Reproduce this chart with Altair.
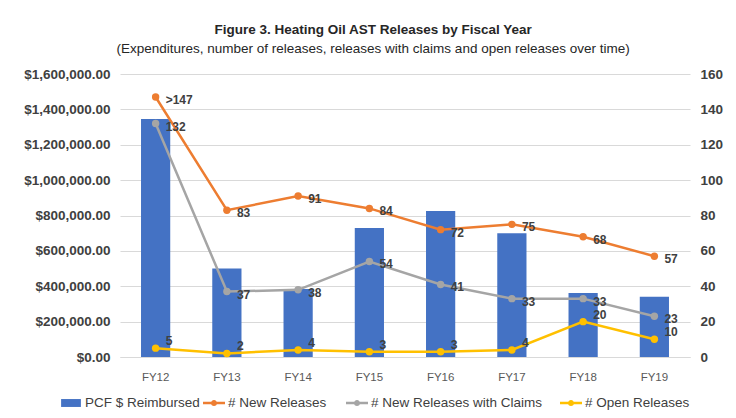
import altair as alt
import pandas as pd

years = ["FY12", "FY13", "FY14", "FY15", "FY16", "FY17", "FY18", "FY19"]
reimbursed = [1345000, 500000, 385000, 730000, 825000, 700000, 362000, 340000]
new_releases = [147, 83, 91, 84, 72, 75, 68, 57]
new_labels = [">147", "83", "91", "84", "72", "75", "68", "57"]
claims = [132, 37, 38, 54, 41, 33, 33, 23]
open_rel = [5, 2, 4, 3, 3, 4, 20, 10]

SERIES = ["PCF $ Reimbursed", "# New Releases", "# New Releases with Claims", "# Open Releases"]
COLORS = ["#4472C4", "#ED7D31", "#A5A5A5", "#FFC000"]

bars_df = pd.DataFrame({"year": years, "series": SERIES[0], "amount": reimbursed})
rows = []
for name, vals, labs in [
    (SERIES[1], new_releases, new_labels),
    (SERIES[2], claims, [str(v) for v in claims]),
    (SERIES[3], open_rel, [str(v) for v in open_rel]),
]:
    for y, v, l in zip(years, vals, labs):
        rows.append({"year": y, "series": name, "value": v, "label": l})
counts_df = pd.DataFrame(rows)

FONT = "Liberation Sans"
DARK = "#404040"

x_enc = alt.X(
    "year:N", sort=years,
    scale=alt.Scale(paddingInner=0.59, paddingOuter=0.295),
    axis=alt.Axis(title=None, labelAngle=0, ticks=False, domain=True, domainColor="#d9d9d9",
                  labelPadding=14, labelFont=FONT, labelFontSize=11.5, labelColor="#595959"),
)
color_scale = alt.Scale(domain=SERIES, range=COLORS)

# legend glyphs (filled): a bar swatch, and a line with a dot
RECT_PATH = "M-0.9,-0.36H0.9V0.36H-0.9Z"
LINE_PATH = ("M-1,-0.115H1V0.115H-1Z"
             "M0.28,0A0.28,0.28,0,1,1,-0.28,0A0.28,0.28,0,1,1,0.28,0Z")
LEGEND_SYMBOLS = [RECT_PATH, LINE_PATH, LINE_PATH, LINE_PATH]
LEGEND_X = [-60, 83, 226, 440]

bars = alt.Chart(bars_df).mark_bar().encode(
    x=x_enc,
    y=alt.Y("amount:Q", scale=alt.Scale(domain=[0, 1600000]),
            axis=alt.Axis(title=None, format="$,.2f", values=list(range(0, 1600001, 200000)),
                          grid=True, gridColor="#d9d9d9", ticks=False, domain=False,
                          labelPadding=10, labelFont=FONT, labelFontSize=13.5,
                          labelFontWeight="bold", labelColor=DARK)),
    color=alt.Color("series:N", scale=color_scale, legend=None),
)

y_cnt = alt.Y("value:Q", scale=alt.Scale(domain=[0, 160]),
              axis=alt.Axis(title=None, orient="right", values=list(range(0, 161, 20)),
                            grid=False, ticks=False, domain=False, labelPadding=10,
                            labelFont=FONT, labelFontSize=13.5, labelFontWeight="bold",
                            labelColor=DARK))

base = alt.Chart(counts_df)
cnt_color = alt.Color("series:N", scale=color_scale, legend=None)
lines = base.mark_line(strokeWidth=2.5).encode(x=x_enc, y=y_cnt, color=cnt_color)
points = base.mark_point(filled=True, size=55, opacity=1).encode(x=x_enc, y=y_cnt, color=cnt_color)

offsets = {SERIES[1]: (10, 3), SERIES[2]: (10, 3), SERIES[3]: (10, -7)}
texts = []
for name in SERIES[1:]:
    dx, dy = offsets[name]
    texts.append(
        base.transform_filter(alt.datum.series == name)
        .mark_text(align="left", baseline="middle", dx=dx, dy=dy, font=FONT,
                   fontSize=12, fontWeight="bold", color=DARK)
        .encode(x=x_enc, y=y_cnt, text="label:N")
    )

legend_layers = []
for name, col, sym, lx in zip(SERIES, COLORS, LEGEND_SYMBOLS, LEGEND_X):
    leg = alt.Legend(
        title=None, orient="none", legendX=lx, legendY=318, direction="horizontal",
        symbolType=sym, symbolSize=484, symbolStrokeWidth=0, symbolOpacity=1,
        labelFont=FONT, labelFontSize=13.5, labelColor=DARK, labelOffset=3, labelLimit=400,
    )
    legend_layers.append(
        alt.Chart(pd.DataFrame({"series": [name]}))
        .mark_point(filled=True, opacity=1, clip=True)
        .encode(x=alt.value(-300), y=alt.value(-300),
                color=alt.Color("series:N", scale=alt.Scale(domain=[name], range=[col]), legend=leg))
    )

counts_layer = alt.layer(lines, points, *texts)

chart = (
    alt.layer(bars, counts_layer, *legend_layers)
    .resolve_scale(y="independent", color="independent")
    .properties(
        width=570, height=283,
        autosize=alt.AutoSizeParams(type="none"),
        padding={"left": 112, "top": 66, "right": 38, "bottom": 53},
        title=alt.TitleParams(
            text="Figure 3. Heating Oil AST Releases by Fiscal Year",
            subtitle="(Expenditures, number of releases,  releases with claims and open releases over time)",
            anchor="middle", frame="bounds", font=FONT, fontSize=13.5, fontWeight="bold",
            color="#262626", subtitleFont=FONT, subtitleFontSize=13.5, subtitleColor="#262626",
            offset=12, subtitlePadding=5,
        ),
    )
    .configure_view(stroke=None)
)

chart.save("out.html", embed_options={"renderer": "svg", "actions": False})
